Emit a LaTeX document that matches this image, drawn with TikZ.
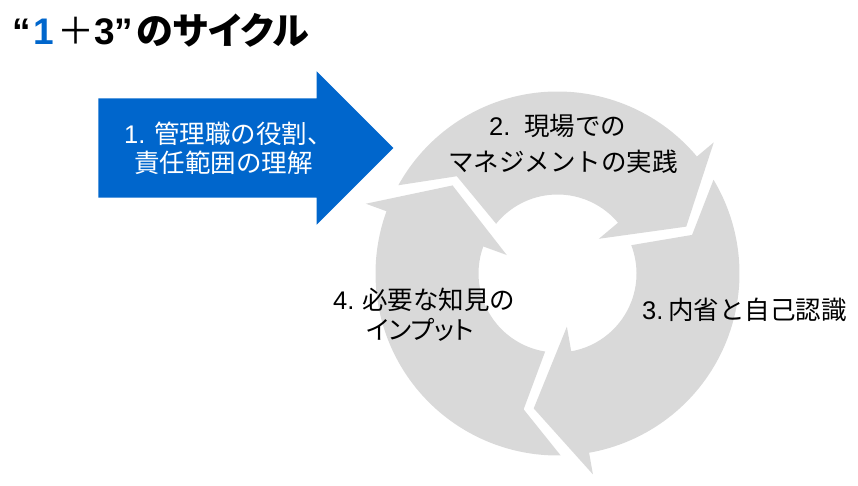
\documentclass[tikz,border=0pt]{standalone}
\usepackage{fontspec}
\setmainfont{Liberation Sans}
\newfontfamily\jp{Noto Sans CJK JP}
\newfontfamily\jpp[RawFeature=+palt]{Noto Sans CJK JP}
\definecolor{cycgray}{HTML}{D9D9D9}
\definecolor{mainblue}{HTML}{0066CC}
\tikzset{
  segfill/.style={fill=cycgray, draw=none},
  bluearrow/.style={fill=mainblue, draw=none},
  lbl/.style={inner sep=0pt, anchor=base west, font=\fontsize{25.5}{30}\selectfont},
}
\newcommand{\cycseg}[1]{%
  \fill[segfill] ({151+(#1)}:182pt)
    arc[start angle={151+(#1)}, end angle={40+(#1)}, radius=182pt]
    -- ({40+(#1)}:204pt) -- ({20+(#1)}:137pt) -- ({40+(#1)}:54pt) -- ({40+(#1)}:79pt)
    arc[start angle={40+(#1)}, end angle={141+(#1)}, radius=79pt]
    -- ({136+(#1)}:140pt) -- cycle;
}
\begin{document}
\begin{tikzpicture}[x=1pt,y=1pt]
\useasboundingbox (0,0) rectangle (858,486);
% title
\node[anchor=base west, inner sep=0pt, font=\fontsize{37}{44}\selectfont\bfseries] (title) at (12,441)
  {“\hspace{2.5pt}\textcolor{mainblue}{1}\hspace{3.4pt}{\jp\mdseries ＋}3”\hspace{3pt}{\jpp のサイクル}};
% cycle ring
\begin{scope}[shift={(557.5,212.5)}]
  \cycseg{0}
  \cycseg{-120}
  \cycseg{120}
\end{scope}
% blue arrow
\fill[bluearrow] (98.3,387.7) -- (316.7,387.7) -- (316.7,414.7) -- (393.3,338) -- (316.7,261.3) -- (316.7,288.3) -- (98.3,288.3) -- cycle;
% labels
\node[lbl, text=white] (t1a) at (124,342) {1.\hspace{8.7pt}{\jp 管理職の役割、}};
\node[lbl, text=white] (t1b) at (134,313.2) {\jp 責任範囲の理解};
\node[lbl] (t2a) at (489,350.5) {2.\hspace{13.7pt}{\jp 現場での}};
\node[lbl] (t2b) at (448,314.5) {\jp マネジメントの実践};
\node[lbl] (t3) at (642,166) {3.\hspace{4.7pt}{\jp 内省と自己認識}};
\node[lbl] (t4a) at (333,176) {4.\hspace{7.7pt}{\jp 必要な知見の}};
\node[lbl, anchor=base] (t4b) at (420,146.5) {\jpp インプット};
\end{tikzpicture}
\end{document}
